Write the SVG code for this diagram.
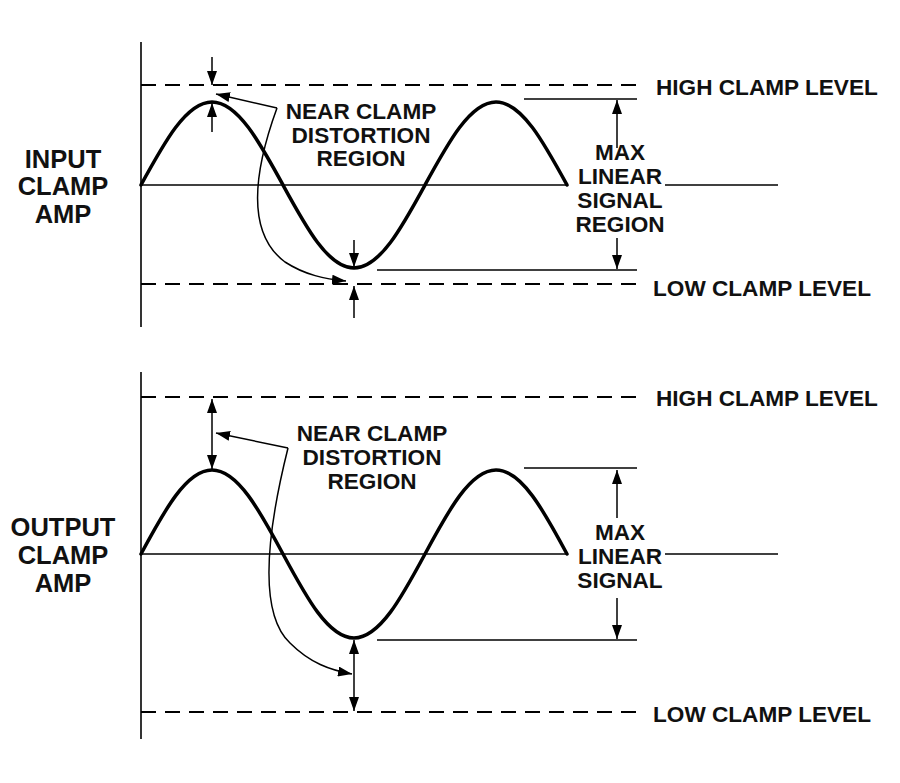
<svg xmlns="http://www.w3.org/2000/svg" width="900" height="783" viewBox="0 0 900 783">
<style>
.t{font-family:"Liberation Sans",Arial,sans-serif;font-weight:bold;font-size:22.6px;fill:#111}
.lab{font-size:25.5px;text-anchor:middle}
.mid{text-anchor:middle}
.ax{stroke:#000;stroke-width:1.6;fill:none}
.dash{stroke:#000;stroke-width:1.8;stroke-dasharray:15 9;fill:none}
.sine{stroke:#000;stroke-width:3.5;fill:none;stroke-linecap:round}
.ar{stroke:#000;stroke-width:1.5;fill:none}
</style>
<defs>
<marker id="ah" viewBox="0 0 14 10" refX="14" refY="5" markerWidth="14" markerHeight="10" markerUnits="userSpaceOnUse" orient="auto-start-reverse">
<path d="M0,0 L14,5 L0,10 Z" fill="#000"/>
</marker>
</defs>
<rect width="900" height="783" fill="#fff"/>

<g id="top-panel">
<g id="top-axes">
<line class="ax" x1="141" y1="42" x2="141" y2="327"/>
<line class="ax" x1="141" y1="185" x2="568" y2="185"/>
<line class="ax" x1="665" y1="185" x2="778" y2="185"/>
<line class="dash" x1="141" y1="85" x2="638" y2="85"/>
<line class="dash" x1="141" y1="284" x2="638" y2="284"/>
<line class="ax" x1="524" y1="99" x2="637" y2="99"/>
<line class="ax" x1="377" y1="270" x2="637" y2="270"/>
</g>
<path id="top-sine" class="sine" d="M141,185 C164.2,142.5 186.3,102 212,102 C237.7,102 259.8,142.5 283,185 C306.2,227.5 328.3,268 354,268 C379.7,268 401.8,227.5 425,185 C448.2,142.5 470.3,102 496,102 C521.7,102 543.8,142.5 567,185"/>
<g id="top-labels">
<text class="t lab" x="63" y="168">INPUT</text>
<text class="t lab" x="63" y="195">CLAMP</text>
<text class="t lab" x="63" y="223">AMP</text>
<text class="t mid" x="361" y="119">NEAR CLAMP</text>
<text class="t mid" x="361" y="143">DISTORTION</text>
<text class="t mid" x="361" y="166">REGION</text>
<text class="t mid" x="620" y="160">MAX</text>
<text class="t mid" x="620" y="184">LINEAR</text>
<text class="t mid" x="620" y="208">SIGNAL</text>
<text class="t mid" x="620" y="232">REGION</text>
<text class="t" x="656" y="95">HIGH CLAMP LEVEL</text>
<text class="t" x="653" y="296">LOW CLAMP LEVEL</text>
</g>
</g>

<g id="bottom-panel">
<g id="bottom-axes">
<line class="ax" x1="141" y1="372" x2="141" y2="739"/>
<line class="ax" x1="141" y1="554" x2="568" y2="554"/>
<line class="ax" x1="665" y1="554" x2="778" y2="554"/>
<line class="dash" x1="141" y1="397" x2="638" y2="397"/>
<line class="dash" x1="141" y1="712" x2="638" y2="712"/>
<line class="ax" x1="524" y1="468" x2="637" y2="468"/>
<line class="ax" x1="377" y1="640" x2="637" y2="640"/>
</g>
<path id="bottom-sine" class="sine" d="M141,554 C164.2,510.9 186.3,470 212,470 C237.7,470 259.8,510.9 283,554 C306.2,597.1 328.3,638 354,638 C379.7,638 401.8,597.1 425,554 C448.2,510.9 470.3,470 496,470 C521.7,470 543.8,510.9 567,554"/>
<g id="bottom-labels">
<text class="t lab" x="63" y="536">OUTPUT</text>
<text class="t lab" x="63" y="564">CLAMP</text>
<text class="t lab" x="63" y="592">AMP</text>
<text class="t mid" x="372" y="441">NEAR CLAMP</text>
<text class="t mid" x="372" y="465">DISTORTION</text>
<text class="t mid" x="372" y="489">REGION</text>
<text class="t mid" x="620" y="540">MAX</text>
<text class="t mid" x="620" y="564">LINEAR</text>
<text class="t mid" x="620" y="588">SIGNAL</text>
<text class="t" x="656" y="406">HIGH CLAMP LEVEL</text>
<text class="t" x="653" y="722">LOW CLAMP LEVEL</text>
</g>
</g>

<g id="connectors">
<line class="ar" x1="212" y1="57" x2="212" y2="85" marker-end="url(#ah)"/>
<line class="ar" x1="212" y1="132" x2="212" y2="103" marker-end="url(#ah)"/>
<line class="ar" x1="354" y1="240" x2="354" y2="267" marker-end="url(#ah)"/>
<line class="ar" x1="354" y1="318" x2="354" y2="286" marker-end="url(#ah)"/>
<line class="ar" x1="617" y1="148" x2="617" y2="100" marker-end="url(#ah)"/>
<line class="ar" x1="617" y1="238" x2="617" y2="269" marker-end="url(#ah)"/>
<line class="ar" x1="277" y1="108" x2="216" y2="94" marker-end="url(#ah)"/>
<path class="ar" d="M277,108 C258,160 242,230 285,262 C305,275 325,279 346,281" marker-end="url(#ah)"/>

<line class="ar" x1="212" y1="399" x2="212" y2="469" marker-start="url(#ah)" marker-end="url(#ah)"/>
<line class="ar" x1="354" y1="640" x2="354" y2="711" marker-start="url(#ah)" marker-end="url(#ah)"/>
<line class="ar" x1="617" y1="518" x2="617" y2="470" marker-end="url(#ah)"/>
<line class="ar" x1="617" y1="598" x2="617" y2="639" marker-end="url(#ah)"/>
<line class="ar" x1="288" y1="448" x2="216" y2="433" marker-end="url(#ah)"/>
<path class="ar" d="M288,448 C270,520 255,610 290,643 C310,663 330,670 352,674" marker-end="url(#ah)"/>
</g>
</svg>
